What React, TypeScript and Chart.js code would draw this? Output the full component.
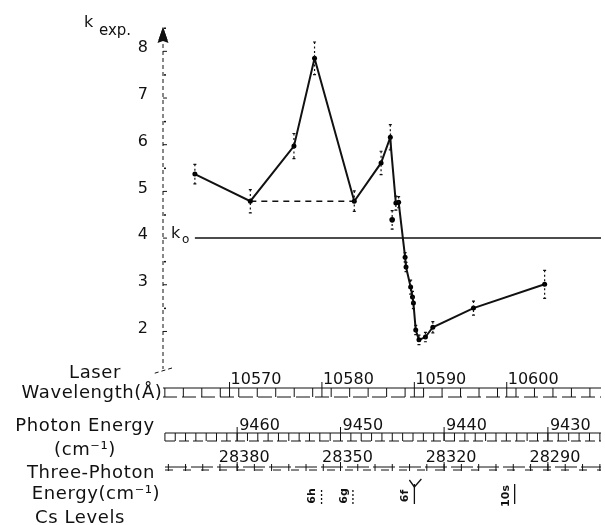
import { useEffect, useRef } from "react";
import { Chart, registerables } from "chart.js";
Chart.register(...registerables);

// ---- data ----
const wavelength = [10566.25, 10572.25, 10576.97, 10579.2, 10583.5, 10586.4, 10587.4, 10587.5, 10588.0, 10588.3, 10589.0, 10589.1, 10589.6, 10589.8, 10589.9, 10590.15, 10590.5, 10591.2, 10592.0, 10596.4, 10604.1];
const kExp = [5.37, 4.79, 5.97, 7.85, 4.79, 5.61, 6.16, 5.88, 4.75, 4.77, 3.59, 3.38, 2.95, 2.74, 2.61, 2.03, 1.82, 1.88, 2.09, 2.5, 3.01];
const kErr = [0.21, 0.25, 0.27, 0.35, 0.22, 0.25, 0.27, 0, 0.15, 0.12, 0.1, 0.1, 0.15, 0.12, 0.12, 0.1, 0.1, 0.1, 0.12, 0.15, 0.3];
const pointSize = [2.5, 2.5, 2.5, 2.5, 2.5, 2.5, 2.5, 0, 2.5, 2.5, 2.5, 2.5, 2.5, 2.5, 2.5, 2.5, 2.5, 2.5, 2.5, 2.5, 2.5];
const outlierWavelength = [10587.6];
const outlierK = [4.39];
const outlierErr = [0.2];
const dashedWavelength = [10572.25, 10583.5];
const dashedK = [4.79, 4.79];
const kZeroWavelength = [10566.25, 10610.2];
const kZeroValue = [4.0, 4.0];
const yTicks = [2, 3, 4, 5, 6, 7, 8];
const wavelengthTicks = [10570, 10580, 10590, 10600];
const photonTicks = [9460, 9450, 9440, 9430];
const threePhotonTicks = [28380, 28350, 28320, 28290];
const csLevelNames = ["6h", "6g", "6f", "10s"];
const csLevelEnergies = [28355.5, 28346.4, 28328.6, 28299.6];
const csLevelDotted = [true, true, false, false];

const X_MIN = 10562.8;
const X_MAX = 10610.2;
const Y_MIN = 1.41;
const Y_MAX = 8.2;
const FONT = '"DejaVu Sans", sans-serif';
const INK = "#111";

const photonToLambda = (e: number) => 1e8 / e;
const threePhotonToLambda = (e: number) => 3e8 / e;

const figurePlugin = {
  id: "figure",
  afterDraw(chart: any) {
    const ctx: CanvasRenderingContext2D = chart.ctx;
    const xs = chart.scales.x;
    const ys = chart.scales.y;
    const X = (v: number) => xs.getPixelForValue(v);
    const Y = (v: number) => ys.getPixelForValue(v);
    const axisX = xs.left;
    const right = xs.right;
    ctx.save();
    ctx.strokeStyle = INK;
    ctx.fillStyle = INK;

    // error bars
    const drawErr = (xv: number, yv: number, e: number) => {
      if (!e) return;
      const px = X(xv);
      ctx.save();
      ctx.lineWidth = 1.2;
      ctx.setLineDash([2, 2.5]);
      ctx.beginPath();
      ctx.moveTo(px, Y(yv + e));
      ctx.lineTo(px, Y(yv - e));
      ctx.stroke();
      ctx.setLineDash([]);
      ctx.beginPath();
      ctx.moveTo(px - 1.5, Y(yv + e));
      ctx.lineTo(px + 1.5, Y(yv + e));
      ctx.moveTo(px - 1.5, Y(yv - e));
      ctx.lineTo(px + 1.5, Y(yv - e));
      ctx.stroke();
      ctx.restore();
    };
    wavelength.forEach((w, i) => drawErr(w, kExp[i], kErr[i]));
    outlierWavelength.forEach((w, i) => drawErr(w, outlierK[i], outlierErr[i]));

    // y axis (dashed) and arrow
    ctx.lineWidth = 1;
    ctx.setLineDash([4, 3]);
    ctx.beginPath();
    ctx.moveTo(axisX, 44);
    ctx.lineTo(axisX, 369);
    ctx.moveTo(axisX + 9, 368);
    ctx.lineTo(axisX - 11, 374);
    ctx.stroke();
    ctx.setLineDash([]);
    ctx.beginPath();
    ctx.moveTo(axisX, 27);
    ctx.lineTo(axisX + 5.5, 43);
    ctx.lineTo(axisX, 41);
    ctx.lineTo(axisX - 5.5, 43);
    ctx.closePath();
    ctx.fill();
    ctx.beginPath();
    ctx.moveTo(axisX, 27);
    ctx.lineTo(axisX + 4.5, 40);
    ctx.lineTo(axisX - 4.5, 40);
    ctx.closePath();
    ctx.fill();

    // y ticks and labels
    ctx.font = `16px ${FONT}`;
    ctx.textAlign = "right";
    ctx.textBaseline = "middle";
    yTicks.forEach((t) => {
      const py = Y(t);
      ctx.beginPath();
      ctx.moveTo(axisX, py);
      ctx.lineTo(axisX + 4, py);
      ctx.stroke();
      ctx.fillRect(axisX + 1, Y(t + 0.5) - 0.5, 2, 1.5);
      ctx.fillText(String(t), 148, py - 3);
    });

    // axis title k exp.
    ctx.textAlign = "left";
    ctx.textBaseline = "alphabetic";
    ctx.font = `16px ${FONT}`;
    ctx.fillText("k", 84, 27);
    ctx.font = `15px ${FONT}`;
    ctx.fillText("exp.", 99, 35);

    // k_o label
    ctx.font = `16px ${FONT}`;
    ctx.fillText("k", 171, Y(4) + 0);
    ctx.font = `12px ${FONT}`;
    ctx.fillText("o", 182, Y(4) + 5);

    // left-hand row labels
    ctx.font = `18px ${FONT}`;
    (ctx as any).letterSpacing = "0.6px";
    ctx.textAlign = "center";
    ctx.fillText("Laser", 95, 378);
    ctx.fillText("Wavelength(Å)", 92, 398);
    ctx.fillText("Photon Energy", 85, 431);
    ctx.fillText("(cm⁻¹)", 85, 455);
    ctx.fillText("Three-Photon", 91, 478);
    ctx.fillText("Energy(cm⁻¹)", 96, 499);
    ctx.fillText("Cs Levels", 80, 523);
    (ctx as any).letterSpacing = "0px";

    // wavelength ruler
    ctx.lineWidth = 1;
    ctx.beginPath();
    ctx.moveTo(axisX, 388);
    ctx.lineTo(right, 388);
    ctx.stroke();
    ctx.setLineDash([14, 5]);
    ctx.beginPath();
    ctx.moveTo(axisX, 397);
    ctx.lineTo(right, 397);
    ctx.stroke();
    ctx.setLineDash([]);
    for (let w = Math.ceil(X_MIN); w <= X_MAX; w += 2) {
      const px = X(w);
      ctx.beginPath();
      ctx.moveTo(px, 388);
      ctx.lineTo(px, 397);
      ctx.stroke();
    }
    ctx.font = `16px ${FONT}`;
    ctx.textAlign = "left";
    wavelengthTicks.forEach((w) => {
      const px = X(w);
      ctx.beginPath();
      ctx.moveTo(px, 382);
      ctx.lineTo(px, 397);
      ctx.stroke();
      ctx.fillText(String(w), px + 1, 384);
    });

    // photon energy ruler
    ctx.beginPath();
    ctx.moveTo(axisX + 2, 433);
    ctx.lineTo(right, 433);
    ctx.stroke();
    ctx.setLineDash([10, 4]);
    ctx.beginPath();
    ctx.moveTo(axisX + 2, 441);
    ctx.lineTo(right, 441);
    ctx.stroke();
    ctx.setLineDash([]);
    const eMax = Math.floor(1e8 / X_MIN);
    const eMin = Math.ceil(1e8 / X_MAX);
    for (let e = eMin; e <= eMax; e += 1) {
      const px = X(photonToLambda(e));
      ctx.beginPath();
      ctx.moveTo(px, 433);
      ctx.lineTo(px, 441);
      ctx.stroke();
    }
    photonTicks.forEach((e) => {
      const px = X(photonToLambda(e));
      ctx.beginPath();
      ctx.moveTo(px, 427);
      ctx.lineTo(px, 441);
      ctx.stroke();
      ctx.fillText(String(e), px + 2, 430);
    });

    // three-photon energy ruler
    ctx.setLineDash([22, 4]);
    ctx.beginPath();
    ctx.moveTo(axisX + 2, 467);
    ctx.lineTo(right, 467);
    ctx.stroke();
    ctx.setLineDash([8, 10]);
    ctx.beginPath();
    ctx.moveTo(axisX + 2, 470);
    ctx.lineTo(right, 470);
    ctx.stroke();
    ctx.setLineDash([]);
    const tMax = Math.floor(3e8 / X_MIN);
    const tMin = Math.ceil(3e8 / X_MAX);
    for (let e = Math.ceil(tMin / 5) * 5; e <= tMax; e += 5) {
      const px = X(threePhotonToLambda(e));
      ctx.beginPath();
      ctx.moveTo(px, 464);
      ctx.lineTo(px, 471);
      ctx.stroke();
    }
    ctx.textAlign = "center";
    threePhotonTicks.forEach((e) => {
      const px = X(threePhotonToLambda(e));
      ctx.beginPath();
      ctx.moveTo(px, 462);
      ctx.lineTo(px, 471);
      ctx.stroke();
      ctx.fillText(String(e), px + 7, 462);
    });

    // Cs levels
    csLevelEnergies.forEach((e, i) => {
      const px = X(threePhotonToLambda(e));
      ctx.lineWidth = 1.3;
      if (csLevelDotted[i]) ctx.setLineDash([2, 2]);
      else ctx.setLineDash([]);
      ctx.beginPath();
      const top = csLevelDotted[i] ? 490 : 484;
      ctx.moveTo(px, top);
      ctx.lineTo(px, 504);
      ctx.stroke();
      ctx.setLineDash([]);
      if (csLevelNames[i] === "6f") {
        ctx.beginPath();
        ctx.moveTo(px, 487);
        ctx.lineTo(px - 5, 480);
        ctx.moveTo(px, 487);
        ctx.lineTo(px + 7, 479);
        ctx.stroke();
      }
      ctx.save();
      ctx.translate(px - 9, 496);
      ctx.rotate(-Math.PI / 2);
      ctx.font = `bold 11px ${FONT}`;
      ctx.textAlign = "center";
      ctx.textBaseline = "middle";
      ctx.fillText(csLevelNames[i], 0, 0);
      ctx.restore();
    });

    ctx.restore();
  },
};

export default function App() {
  const ref = useRef<HTMLCanvasElement | null>(null);
  useEffect(() => {
    if (!ref.current) return;
    const chart = new Chart(ref.current, {
      type: "line",
      data: {
        datasets: [
          {
            label: "k exp.",
            data: wavelength.map((w, i) => ({ x: w, y: kExp[i] })),
            borderColor: INK,
            backgroundColor: INK,
            borderWidth: 2,
            pointRadius: pointSize,
            pointBackgroundColor: "#000",
            pointBorderWidth: 0,
            tension: 0,
          },
          {
            label: "outlier",
            data: outlierWavelength.map((w, i) => ({ x: w, y: outlierK[i] })),
            showLine: false,
            pointRadius: 2.8,
            pointBackgroundColor: "#000",
            pointBorderWidth: 0,
          },
          {
            label: "dashed",
            data: dashedWavelength.map((w, i) => ({ x: w, y: dashedK[i] })),
            borderColor: INK,
            borderWidth: 1.5,
            borderDash: [6, 5],
            pointRadius: 0,
          },
          {
            label: "k0",
            data: kZeroWavelength.map((w, i) => ({ x: w, y: kZeroValue[i] })),
            borderColor: INK,
            borderWidth: 1.5,
            pointRadius: 0,
          },
        ],
      },
      options: {
        animation: false,
        responsive: false,
        maintainAspectRatio: false,
        devicePixelRatio: 1,
        layout: { padding: { left: 163, right: 0, top: 42, bottom: 166 } },
        plugins: { legend: { display: false }, tooltip: { enabled: false } },
        scales: {
          x: { type: "linear", min: X_MIN, max: X_MAX, display: false },
          y: { type: "linear", min: Y_MIN, max: Y_MAX, display: false },
        },
      },
      plugins: [figurePlugin],
    });
    return () => chart.destroy();
  }, []);
  return (
    <div style={{ position: "fixed", left: 0, top: 0, width: 605, height: 525, background: "#fff" }}>
      <canvas ref={ref} width={605} height={525} />
    </div>
  );
}
